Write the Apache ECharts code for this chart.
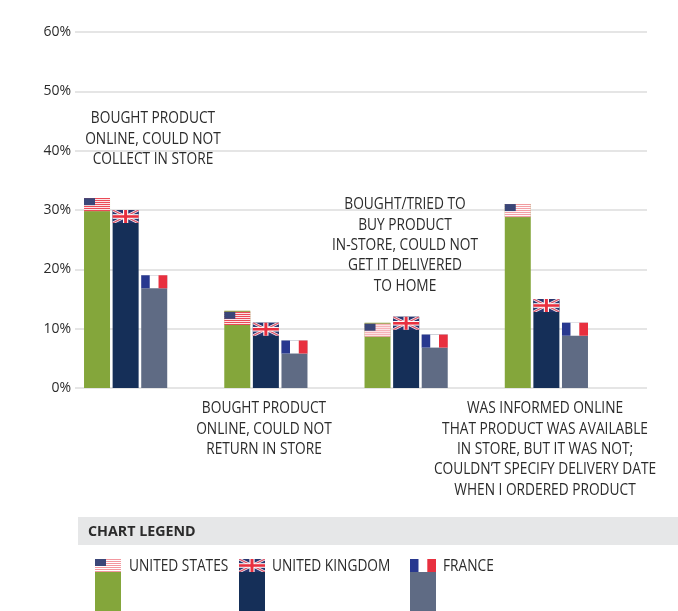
<!DOCTYPE html>
<html><head><meta charset="utf-8">
<style>html,body{margin:0;padding:0;background:#fff}#c{width:678px;height:611px}</style>
<script src="https://cdn.jsdelivr.net/npm/echarts@6/dist/echarts.min.js"></script>
</head><body><div id="c"></div>
<script>
const categories = ['Bought online, no store collection','Bought online, no store return','Bought in-store, no home delivery','Informed online, not in store'];
const unitedStates = [32, 13, 11, 31];
const unitedKingdom = [30, 11, 12, 15];
const france = [19, 8, 9, 11];
const seriesNames = ['UNITED STATES', 'UNITED KINGDOM', 'FRANCE'];
const seriesColors = ['#84a63b', '#152f58', '#5f6b84'];
const yTicks = {min: 0, max: 60, interval: 10};
const notes = [
  {x: 153, y: 119, lines: ['BOUGHT PRODUCT', 'ONLINE, COULD NOT', 'COLLECT IN STORE']},
  {x: 264, y: 409, lines: ['BOUGHT PRODUCT', 'ONLINE, COULD NOT', 'RETURN IN STORE']},
  {x: 405, y: 205, lines: ['BOUGHT/TRIED TO', 'BUY PRODUCT', 'IN-STORE, COULD NOT', 'GET IT DELIVERED', 'TO HOME']},
  {x: 545, y: 409, lines: ['WAS INFORMED ONLINE', 'THAT PRODUCT WAS AVAILABLE', 'IN STORE, BUT IT WAS NOT;', 'COULDN\u2019T SPECIFY DELIVERY DATE', 'WHEN I ORDERED PRODUCT']}
];
const FONT = '"Open Sans",sans-serif';
const TXT = '#2b2b2b';
const NARROW = 0.885;
const FW = 26, FH = 13, RED = '#e8303f', BLUE = '#28388f', WHITE = '#ffffff';

function rect(x, y, w, h, fill, opacity) {
  return {type: 'rect', shape: {x, y, width: w, height: h}, style: {fill, opacity: opacity == null ? 1 : opacity}};
}
function poly(points, fill) {
  return {type: 'polygon', shape: {points}, style: {fill}};
}
function usFlag(x, y, fade) {
  const out = [rect(x, y, FW, FH, WHITE)];
  const a = fade ? 0.5 : 1;
  const sh = (FH - 1) / 6;
  for (let i = 0; i < 7; i++) out.push(rect(x, y + i * sh, FW, 1, RED, a));
  out.push(rect(x, y, 11, 7, '#3a4678'));
  return out;
}
function ukFlag(x, y) {
  return [
    rect(x, y, FW, FH, '#28356f'),
    poly([[x, y], [x + 3, y], [x + FW, y + FH - 1.5], [x + FW, y + FH], [x + FW - 3, y + FH], [x, y + 1.5]], WHITE),
    poly([[x + FW, y], [x + FW - 3, y], [x, y + FH - 1.5], [x, y + FH], [x + 3, y + FH], [x + FW, y + 1.5]], WHITE),
    poly([[x, y], [x + 1.5, y], [x + FW, y + FH - 0.7], [x + FW, y + FH], [x + FW - 1.5, y + FH], [x, y + 0.7]], '#d8566c'),
    poly([[x + FW, y], [x + FW - 1.5, y], [x, y + FH - 0.7], [x, y + FH], [x + 1.5, y + FH], [x + FW, y + 0.7]], '#d8566c'),
    rect(x + FW / 2 - 2.6, y, 5.2, FH, WHITE),
    rect(x, y + FH / 2 - 2.3, FW, 4.6, WHITE),
    rect(x + FW / 2 - 1.5, y, 3, FH, RED),
    rect(x, y + FH / 2 - 1.3, FW, 2.6, RED)
  ];
}
function frFlag(x, y) {
  return [rect(x, y, FW, FH, WHITE), rect(x, y, 8.5, FH, BLUE), rect(x + 17.3, y, 8.7, FH, RED)];
}
function flag(kind, x, y, fade) {
  return kind === 0 ? usFlag(x, y, fade) : kind === 1 ? ukFlag(x, y) : frFlag(x, y);
}

const flagData = [];
[unitedStates, unitedKingdom, france].forEach((arr, k) => arr.forEach((v, i) => flagData.push([i, v, k])));

const graphic = [];
graphic.push({type: 'rect', shape: {x: 78, y: 517, width: 600, height: 28}, style: {fill: '#e6e7e8'}, z: 1});
graphic.push({type: 'text', x: 88, y: 531.5, scaleX: 0.95, style: {text: 'CHART LEGEND', font: 'bold 15px ' + FONT, fill: '#2b2b2b', verticalAlign: 'middle'}, z: 2});
notes.forEach(n => n.lines.forEach((t, i) => {
  graphic.push({type: 'text', x: n.x, y: n.y + i * 20.3, scaleX: NARROW, style: {text: t, font: '15.5px ' + FONT, fill: TXT, align: 'center', verticalAlign: 'middle'}, z: 5});
}));
const legendX = [95, 239, 410], labelX = [129, 272, 443];
seriesNames.forEach((name, k) => {
  graphic.push({type: 'rect', shape: {x: legendX[k], y: 572, width: 26, height: 39}, style: {fill: seriesColors[k]}, z: 2});
  graphic.push({type: 'group', children: flag(k, legendX[k], 559, true), z: 3});
  graphic.push({type: 'text', x: labelX[k], y: 567, scaleX: NARROW, style: {text: name, font: '15.5px ' + FONT, fill: TXT, verticalAlign: 'middle'}, z: 5});
});

const grids = [
  {left: 75, right: 31, top: 32, height: 356},
  {left: 55.5, width: 561, top: 32, height: 356}
];
const option = {
  animation: false,
  backgroundColor: '#fff',
  grid: grids,
  xAxis: [
    {gridIndex: 0, type: 'category', data: categories, show: false},
    {gridIndex: 1, type: 'category', data: categories, axisLine: {show: false}, axisTick: {show: false}, axisLabel: {show: false}}
  ],
  yAxis: [
    {gridIndex: 0, type: 'value', min: yTicks.min, max: yTicks.max, interval: yTicks.interval,
     axisLine: {show: false}, axisTick: {show: false},
     axisLabel: {formatter: '{value}%', color: TXT, fontFamily: FONT, fontSize: 14, margin: 4, padding: [4, 0, 0, 0]},
     splitLine: {lineStyle: {color: '#dcdcdc', width: 1.5}}},
    {gridIndex: 1, type: 'value', min: yTicks.min, max: yTicks.max, interval: yTicks.interval, show: false, splitLine: {show: false}}
  ],
  series: [
    ...[unitedStates, unitedKingdom, france].map((d, k) => ({
      type: 'bar', name: seriesNames[k], xAxisIndex: 1, yAxisIndex: 1, data: d,
      barWidth: 26, barGap: '10%', itemStyle: {color: seriesColors[k]}, z: 2
    })),
    {
      type: 'custom', xAxisIndex: 1, yAxisIndex: 1, z: 3, clip: false,
      data: flagData,
      encode: {x: 0, y: 1},
      renderItem: function (params, api) {
        const cat = api.value(0), k = api.value(2);
        const p = api.coord([cat, api.value(1)]);
        const x = p[0] - 41.6 + k * 28.6;
        const fade = k === 0 && cat > 1;
        const drop = k === 0 && (cat === 1 || cat === 2) ? 1 : 0;
        return {type: 'group', children: flag(k, x, p[1] + drop, fade)};
      }
    }
  ],
  graphic
};
echarts.init(document.getElementById('c'), null, {renderer: 'canvas'}).setOption(option);
</script></body></html>
